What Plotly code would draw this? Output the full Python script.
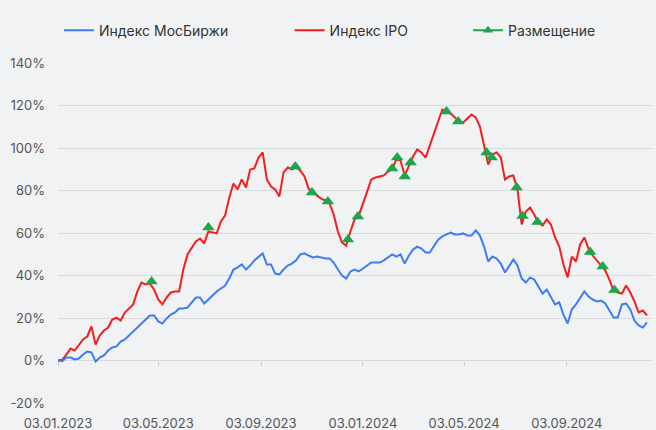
import plotly.graph_objects as go
import pandas as pd

# ---- data ----
start_date = "2023-01-03"
n_points = 142
dates = pd.date_range(start_date, periods=n_points, freq="5D")

moex = [0.0, -0.3, 1.4, 1.4, 0.5, 0.9, 2.8, 4.2, 3.8, -0.5,
        1.4, 2.4, 4.7, 6.1, 6.6, 8.9, 9.9, 11.8, 13.6, 15.5,
        17.4, 19.3, 21.2, 21.2, 18.4, 17.4, 19.8, 21.6, 22.6, 24.5,
        24.5, 24.9, 27.3, 29.6, 29.6, 26.8, 28.7, 30.6, 32.5, 33.9,
        35.3, 38.6, 42.8, 43.8, 45.2, 42.8, 44.7, 47.1, 48.9, 50.4,
        45.2, 45.2, 40.9, 40.5, 42.8, 44.7, 45.6, 47.1, 49.9, 50.4,
        49.4, 48.5, 48.9, 48.5, 48.0, 48.0, 46.1, 42.8, 40.0, 38.6,
        41.9, 42.8, 41.9, 43.3, 44.7, 46.1, 46.1, 46.1, 47.1, 48.5,
        49.9, 48.9, 49.9, 45.6, 49.4, 52.2, 53.6, 52.7, 50.8, 50.8,
        54.1, 56.9, 58.4, 59.3, 60.2, 59.3, 59.3, 59.8, 58.8, 58.8,
        61.2, 58.8, 53.6, 46.6, 48.9, 48.0, 45.6, 41.4, 44.7, 47.5,
        44.7, 38.6, 36.7, 39.1, 38.1, 34.8, 31.5, 33.4, 30.1, 26.4,
        27.3, 21.6, 17.4, 24.0, 26.4, 29.6, 32.5, 30.1, 28.7, 27.8,
        28.2, 26.8, 23.5, 20.2, 20.2, 26.4, 26.8, 24.0, 18.8, 16.5,
        15.5, 17.9]

ipo = [0.0, 0.3, 2.8, 5.6, 4.7, 7.1, 9.9, 11.3, 16.0, 7.5,
       11.8, 14.1, 15.5, 19.3, 20.2, 18.8, 22.6, 24.5, 26.4, 32.5,
       36.7, 35.8, 36.2, 33.4, 28.7, 26.4, 29.6, 32.0, 32.5, 32.5,
       42.8, 49.9, 53.2, 56.0, 57.4, 55.1, 60.7, 60.2, 59.8, 65.4,
       68.2, 76.7, 83.3, 80.5, 85.2, 81.4, 89.9, 90.4, 95.5, 97.9,
       85.2, 81.9, 80.5, 77.2, 88.5, 90.8, 89.9, 90.8, 89.4, 86.6,
       80.9, 79.1, 77.6, 76.2, 75.3, 73.9, 68.7, 60.7, 55.5, 54.1,
       60.7, 66.4, 68.2, 74.4, 79.5, 85.2, 86.1, 86.6, 87.1, 88.9,
       89.9, 94.6, 94.1, 87.1, 91.8, 96.0, 99.3, 97.9, 95.5, 101.2,
       107.3, 113.4, 118.1, 116.7, 116.2, 114.4, 112.5, 112.0, 113.9, 115.8,
       114.4, 110.1, 101.2, 92.2, 96.9, 97.9, 95.5, 85.2, 86.6, 87.1,
       80.5, 64.0, 70.1, 72.0, 68.7, 64.9, 63.5, 66.4, 64.0, 57.9,
       53.6, 45.2, 39.1, 48.9, 46.6, 54.6, 57.9, 52.7, 49.4, 47.1,
       44.7, 42.4, 38.1, 32.9, 32.0, 31.5, 35.3, 32.0, 27.8, 22.6,
       23.5, 21.2]

ipo_dates = ["2023-04-25", "2023-07-02", "2023-10-14", "2023-11-03", "2023-11-22",
             "2023-12-16", "2023-12-28", "2024-02-07", "2024-02-13", "2024-02-22",
             "2024-02-29", "2024-04-12", "2024-04-26", "2024-05-30", "2024-06-05",
             "2024-07-05", "2024-07-12", "2024-07-30", "2024-10-01", "2024-10-16",
             "2024-10-30"]
ipo_values = [37.2, 62.6, 91.3, 79.1, 74.8, 56.9, 67.8, 90.4, 95.5, 86.6,
              93.2, 117.2, 112.5, 97.9, 95.5, 81.4, 68.0, 65.2, 51.1, 44.2,
              33.2]

tick_dates = ["2023-01-03", "2023-05-03", "2023-09-03",
              "2024-01-03", "2024-05-03", "2024-09-03"]
tick_labels = ["03.01.2023", "03.05.2023", "03.09.2023",
               "03.01.2024", "03.05.2024", "03.09.2024"]
x_range = ["2023-01-03", "2024-12-14"]
y_ticks = [-20, 0, 20, 40, 60, 80, 100, 120, 140]
y_labels = ["-20%", "0%", "20%", "40%", "60%", "80%", "100%", "120%", "140%"]

# ---- styles ----
BLUE = "#3f7cf4"
RED = "#f81c1c"
GREEN = "#1fa64a"
BG = "#f1f2f4"
GRID = "#d9dadc"
FONT = "Inter, Roboto, Arial, sans-serif"

fig = go.Figure()
fig.add_trace(go.Scatter(x=dates, y=moex, mode="lines", name="Индекс МосБиржи",
                         line=dict(color=BLUE, width=2), legend="legend",
                         xaxis="x2"))
fig.add_trace(go.Scatter(x=dates, y=ipo, mode="lines", name="Индекс IPO",
                         line=dict(color=RED, width=2), legend="legend2"))
fig.add_trace(go.Scatter(x=ipo_dates, y=ipo_values, mode="markers", name="Размещение",
                         marker=dict(symbol="triangle-up", size=11, color=GREEN),
                         showlegend=False))
fig.add_trace(go.Scatter(x=[None], y=[None], mode="lines+markers", name="Размещение",
                         line=dict(color=GREEN, width=2),
                         marker=dict(symbol="triangle-up", size=9, color=GREEN),
                         legend="legend3"))

legend_common = dict(orientation="h", xref="container", yref="container",
                     yanchor="middle", y=1 - 30.7 / 430, xanchor="left",
                     bgcolor="rgba(0,0,0,0)",
                     font=dict(family=FONT, size=14, color="#333333"))

fig.update_layout(
    width=656, height=430,
    margin=dict(l=58, r=4, t=63, b=27, autoexpand=False),
    paper_bgcolor=BG, plot_bgcolor=BG,
    font=dict(family=FONT, size=13, color="#555555"),
    showlegend=True,
    legend=dict(x=59 / 656, **legend_common),
    legend2=dict(x=289.6 / 656, **legend_common),
    legend3=dict(x=468 / 656, **legend_common),
    xaxis=dict(type="date", range=x_range, tickvals=tick_dates, ticktext=tick_labels,
               showgrid=False, zeroline=False, showline=False, ticks="",
               ticklabelstandoff=11, tickfont=dict(size=13, color="#555555")),
    xaxis2=dict(type="date", range=x_range, tickvals=tick_dates, overlaying="x",
                matches="x", anchor="free", position=0.125, showticklabels=False,
                ticks="outside", ticklen=4, tickcolor="#c8c9cb", tickwidth=1,
                showgrid=False, zeroline=False, showline=False),
    yaxis=dict(range=[-20, 140], tickvals=y_ticks, ticktext=y_labels,
               showgrid=True, gridcolor=GRID, gridwidth=1, zeroline=False,
               showline=False, ticks="", ticklabelstandoff=12,
               tickfont=dict(size=13, color="#555555")),
)

fig.write_html(
    "out.html",
    config={"displayModeBar": False},
    post_script="document.body.style.margin='0';document.body.style.background='" + BG + "';",
)
